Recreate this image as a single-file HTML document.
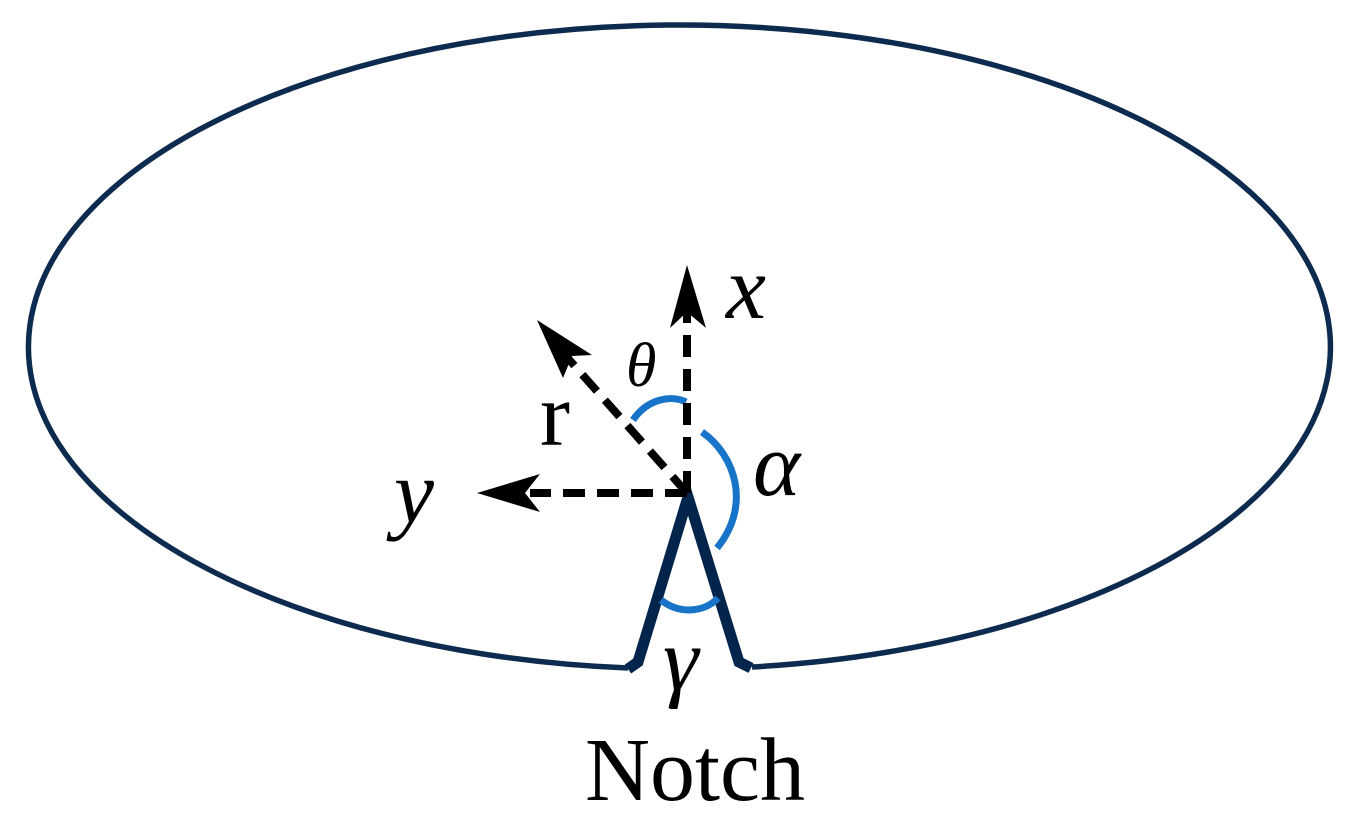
<!DOCTYPE html>
<html><head><style>
html,body{margin:0;padding:0;background:#fff;}
svg{display:block;}
text{font-family:"Liberation Serif",serif;fill:#000;}
</style></head><body>
<svg width="1357" height="828" viewBox="0 0 1357 828">
<path d="M628,668 A651,322 0 1 1 752,667" fill="none" stroke="#0d2a4f" stroke-width="5.5"/>
<path d="M628,669 L638,662 L688,497 L739,662 L751,668" fill="none" stroke="#04254b" stroke-width="11" stroke-linejoin="miter"/>
<g stroke="#1874c8" stroke-width="7" fill="none">
<path d="M633,420 C648,398 672,395 686,402"/>
<path d="M702,432 C735,455 752,505 717,548"/>
<path d="M661,600 C680,615 705,612 718,598"/>
</g>
<g stroke="#000" stroke-width="8" fill="none" stroke-dasharray="22,12">
<path d="M687,493 L687,305"/>
<path d="M687,493 L530,493"/>
<path d="M687,493 L565,355"/>
</g>
<polygon points="687,265 670,328 687,312 706,328" fill="#000"/>
<polygon points="477,493 540,474 525,493 540,512" fill="#000"/>
<polygon points="537,320 592,355 572,356 563,378" fill="#000"/>
<text x="726" y="318" font-size="90" font-style="italic">x</text>
<text x="626" y="386" font-size="62" font-style="italic">θ</text>
<text x="540" y="445" font-size="90">r</text>
<text x="394" y="522" font-size="90" font-style="italic">y</text>
<text x="753" y="495" font-size="90" font-style="italic">α</text>
<text x="663" y="690" font-size="90" font-style="italic">γ</text>
<text x="695" y="800" font-size="90" text-anchor="middle">Notch</text>
</svg>
</body></html>
